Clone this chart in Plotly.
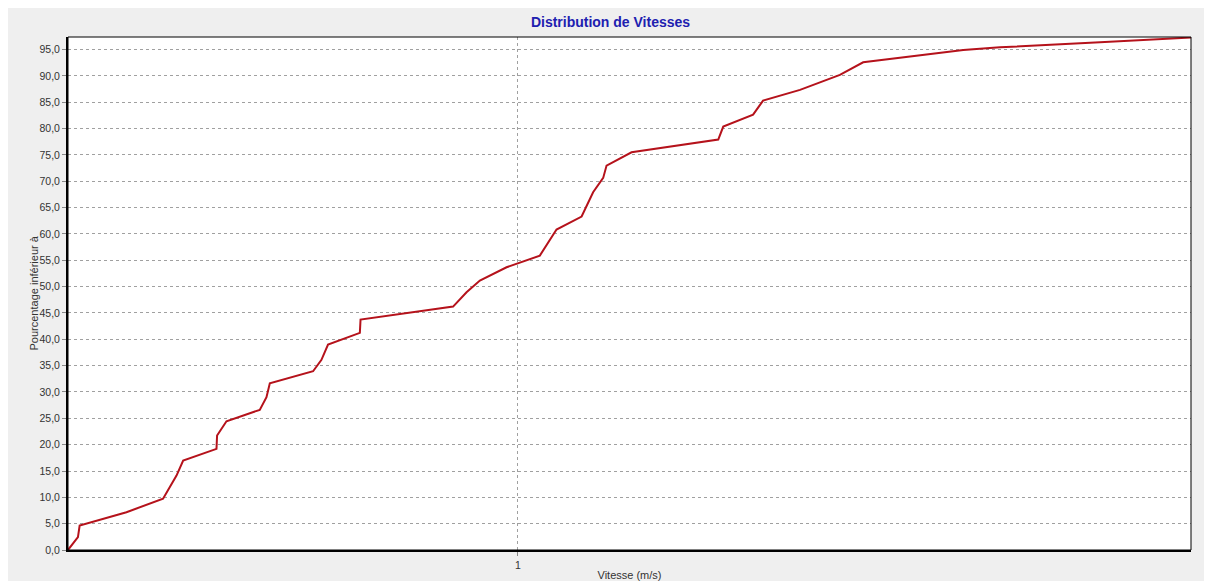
import math
import plotly.graph_objects as go

# Data (speed in m/s, cumulative percentage)
vitesse = [0.300, 0.3081, 0.3095, 0.3508, 0.3869, 0.4011, 0.4083, 0.4464, 0.4471,
           0.4585, 0.5012, 0.5103, 0.5149, 0.5781, 0.5912, 0.6017, 0.6552, 0.6564,
           0.8409, 0.8717, 0.9034, 0.9703, 1.0607, 1.1091, 1.1861, 1.2232, 1.2567,
           1.2680, 1.3558, 1.7099, 1.7329, 1.8770, 1.9277, 2.1281, 2.3679, 2.5200,
           3.2945, 3.634, 4.750, 5.884, 6.060]
pourcentage = [0.0, 2.43, 4.65, 7.18, 9.72, 14.14, 16.99, 19.21, 21.74,
               24.45, 26.61, 29.01, 31.66, 33.94, 36.10, 39.01, 41.23, 43.75,
               46.22, 48.94, 51.16, 53.68, 55.90, 60.84, 63.31, 67.92, 70.65,
               72.99, 75.51, 77.92, 80.39, 82.67, 85.33, 87.36, 90.20, 92.60,
               94.95, 95.44, 96.39, 97.25, 97.3]

y_ticks = [0, 5, 10, 15, 20, 25, 30, 35, 40, 45, 50, 55, 60, 65, 70, 75, 80, 85, 90, 95]
y_ticktext = [f"{v:.1f}".replace(".", ",") for v in y_ticks]
x_ticks = [1]
x_ticktext = ["1"]

x_min, x_max = 0.300, 6.06
y_min, y_max = 0.0, 97.4

font_family = "Liberation Sans, Arial, sans-serif"

W, H = 1202, 573
PW = 1123

fig = go.Figure()
fig.add_trace(go.Scatter(
    x=vitesse, y=pourcentage, mode="lines",
    line=dict(color="#b5121b", width=2),
    showlegend=False, hoverinfo="x+y",
))

fig.update_layout(
    width=W, height=H,
    margin=dict(l=60, r=19, t=29, b=31, autoexpand=False),
    paper_bgcolor="#efefef",
    plot_bgcolor="#ffffff",
    font=dict(family=font_family, size=11, color="#333333"),
    title=dict(text="<b>Distribution de Vitesses</b>", x=(610.5 - 68) / PW, xanchor="center",
               xref="paper", y=1 - 14 / H, yanchor="middle",
               font=dict(family=font_family, size=14, color="#2020b0")),
    xaxis=dict(
        type="log", range=[math.log10(x_min), math.log10(x_max)],
        tickvals=x_ticks, ticktext=x_ticktext,
        showgrid=True, gridcolor="#a0a0a0", griddash="3px,3px", gridwidth=1,
        showline=True, linecolor="#000000", linewidth=2,
        ticks="outside", ticklen=4, tickcolor="#888888",
        zeroline=False, automargin=False,
        title=dict(text="Vitesse (m/s)", standoff=4,
                   font=dict(family=font_family, size=11, color="#333333")),
        tickfont=dict(family=font_family, size=10.5, color="#333333"),
    ),
    yaxis=dict(
        range=[y_min, y_max],
        tickvals=y_ticks, ticktext=y_ticktext,
        showgrid=True, gridcolor="#a0a0a0", griddash="3px,3px", gridwidth=1,
        showline=True, linecolor="#000000", linewidth=2,
        ticks="outside", ticklen=4, tickcolor="#888888",
        zeroline=False, automargin=False,
        tickfont=dict(family=font_family, size=10.5, color="#333333"),
    ),
    annotations=[
        dict(text="Pourcentage inférieur à", textangle=-90, showarrow=False,
             xref="paper", yref="paper", x=(33 - 68) / PW, y=0.5,
             xanchor="center", yanchor="middle",
             font=dict(family=font_family, size=11, color="#333333")),
    ],
    shapes=[
        # thin frame around plot (top/right edges)
        dict(type="rect", xref="paper", yref="paper", x0=0, x1=1, y0=0, y1=1,
             line=dict(color="#000000", width=1), layer="above"),
    ],
)

fig.write_html("out.html")
